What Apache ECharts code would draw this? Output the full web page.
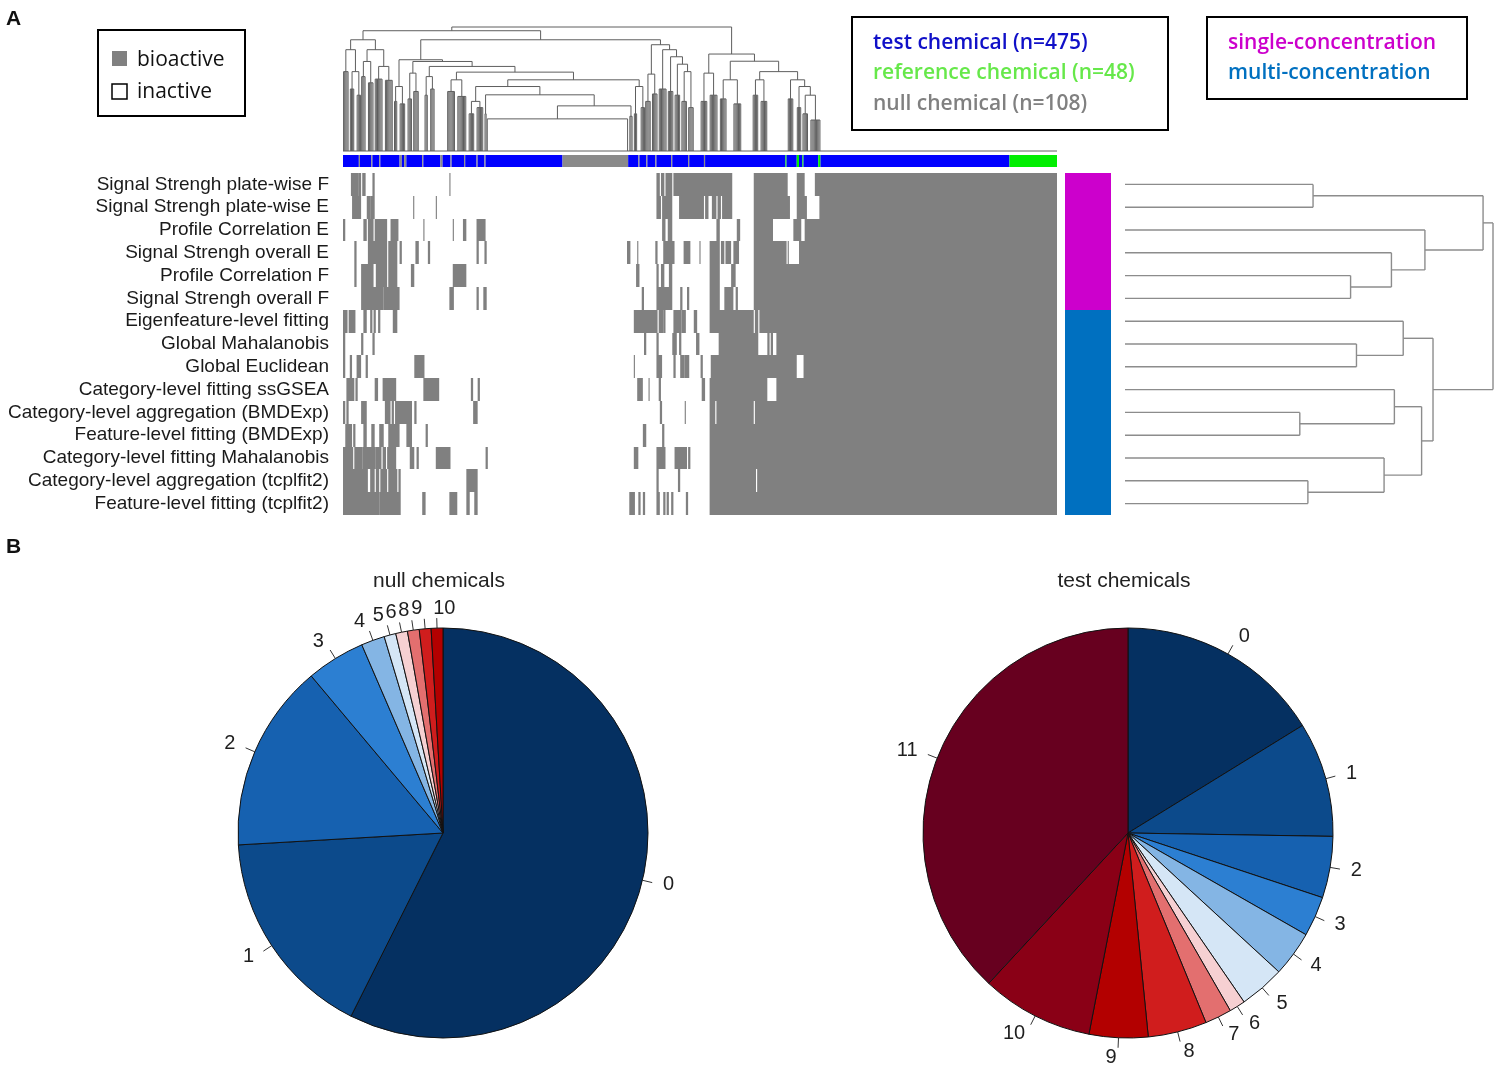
<!DOCTYPE html>
<html><head><meta charset="utf-8">
<script src="https://cdn.jsdelivr.net/npm/echarts@6/dist/echarts.min.js"></script>
<style>html,body{margin:0;padding:0;background:#fff}#c{width:1500px;height:1079px}</style>
</head><body><div id="c"></div>
<script>
// ---------------- DATA ----------------
const nColumns = 631; // 475 test + 48 reference + 108 null chemicals
const rowNames = ['Signal Strengh plate-wise F','Signal Strengh plate-wise E','Profile Correlation E','Signal Strengh overall E','Profile Correlation F','Signal Strengh overall F','Eigenfeature-level fitting','Global Mahalanobis','Global Euclidean','Category-level fitting ssGSEA','Category-level aggregation (BMDExp)','Feature-level fitting (BMDExp)','Category-level fitting Mahalanobis','Category-level aggregation (tcplfit2)','Feature-level fitting (tcplfit2)'];
const methodType = ['single','single','single','single','single','single','multi','multi','multi','multi','multi','multi','multi','multi','multi'];

// bioactive column runs [firstCol, lastCol] per method (row)
const runsPlateWiseF = [[7,13],[14,15],[17,19],[26,27],[94,94],[277,279],[281,283],[285,290],[292,343],[363,392],[401,407],[417,630]];
const runsPlateWiseE = [[8,15],[21,23],[24,27],[62,62],[82,82],[277,280],[282,290],[297,318],[320,322],[326,329],[331,333],[335,343],[363,394],[401,409],[421,630]];
const runsProfCorrE = [[0,1],[18,20],[22,26],[28,38],[42,48],[71,71],[97,97],[106,108],[118,125],[282,284],[287,290],[330,332],[348,350],[363,379],[398,404],[408,630]];
const runsOverallE = [[10,11],[22,38],[40,47],[50,51],[64,66],[75,76],[118,119],[125,126],[251,253],[260,260],[276,277],[283,292],[301,306],[315,315],[324,332],[334,336],[338,342],[345,349],[363,391],[393,393],[403,630]];
const runsProfCorrF = [[10,11],[16,26],[29,38],[40,47],[60,62],[97,108],[259,261],[277,278],[281,283],[288,290],[324,332],[343,346],[363,630]];
const runsOverallF = [[16,35],[36,37],[38,49],[94,97],[118,119],[124,126],[264,265],[277,290],[298,299],[304,305],[324,332],[337,344],[347,348],[363,630]];
const runsEigen = [[0,3],[5,10],[18,20],[24,25],[27,28],[31,32],[44,47],[257,277],[279,282],[283,284],[292,298],[299,302],[310,312],[324,362],[364,366],[368,630]];
const runsGlobalMaha = [[0,1],[16,17],[26,27],[266,267],[277,278],[291,294],[297,298],[312,314],[332,366],[375,376],[378,379],[383,630]];
const runsGlobalEucl = [[0,1],[6,7],[12,15],[20,21],[63,71],[257,257],[277,281],[292,293],[298,301],[302,305],[316,317],[325,400],[407,630]];
const runsCatSsgsea = [[3,9],[11,12],[28,30],[35,46],[71,84],[113,114],[119,120],[260,264],[270,270],[279,280],[317,319],[324,374],[383,630]];
const runsCatAggBmd = [[0,1],[3,4],[16,20],[37,41],[43,44],[46,60],[63,64],[115,118],[280,281],[302,302],[324,328],[330,362],[364,630]];
const runsFeatBmd = [[2,7],[9,10],[18,20],[25,27],[32,35],[40,49],[56,60],[73,74],[265,267],[282,283],[324,630]];
const runsCatMaha = [[0,8],[10,16],[17,28],[29,33],[35,37],[39,46],[59,62],[65,66],[82,94],[126,127],[257,260],[277,284],[293,303],[305,306],[324,630]];
const runsCatAggTcpl = [[0,21],[24,27],[29,31],[33,38],[40,47],[49,50],[109,118],[277,278],[296,297],[324,364],[366,630]];
const runsFeatTcpl = [[0,31],[32,50],[70,72],[94,100],[109,111],[116,118],[253,257],[261,262],[265,266],[277,279],[283,284],[286,287],[290,291],[303,304],[324,630]];

// chemical type of each column (runs); everything else is a test chemical
const nullRuns = [[14,14],[25,25],[32,32],[50,51],[54,55],[70,70],[86,87],[95,95],[107,107],[118,118],[125,125],[194,251],[261,261],[268,268],[276,276],[290,290],[305,305],[319,319]];
const refRuns = [[391,391],[401,402],[406,406],[420,421],[589,630]];

// column dendrogram: node = [height, left, right]; leaf group = [firstCol, lastCol, height]
const colTreeLeft = [89.7,
  [81.7, [0,4,64], [64, [6,9,50], [12,15,45]]],
  [81.7, [72.2, [16,19,60], [22,26,55]], [68.2, [28,34,58], [37,43,57]]]];
const colTreeMidLeft = [73.6,
  [52, [45,47,40], [50,54,38]],
  [72.2, [62.8, [57,60,42], [62,66,48]],
    [68.2, [60, [72,74,45], [77,80,50]],
      [63.6, [57.4, [92,98,48], [101,108,44]],
        [57.4,
          [52, [40, [111,115,30], [118,123,35]],
               [45.3, [125,126,30], [36.4, [25.9, [127,127,0], [251,251,0]], [253,255,28]]]],
          [52, [257,259,30], [263,266,35]]]]]]];
const colTreeMidRight = [85.7,
  [62, [267,271,40], [273,277,46]],
  [81.7, [279,285,50], [76, [287,291,48], [70, [293,297,45], [64, [299,303,40], [305,309,35]]]]]];
const colTreeRight = [78.2,
  [62.8, [316,321,40], [324,330,45]],
  [72.4, [57.4, [333,338,42], [345,351,38]],
    [64, [57.4, [362,366,45], [369,374,40]],
      [57.4, [393,397,42], [52, [401,404,35], [45, [406,410,30], [413,421,25]]]]]]];
const colTreeJoinHeights = [100, 97, 89.7]; // root, left-half, middle

// row dendrogram (hclust style merges: negative = row number, positive = merge number)
const rowMergeA = [-1, -5, -4, -3, 1, -8, -7, -11, -10, -14, -13, 9, 7, 5];
const rowMergeB = [-2, -6, 2, 3, 4, -9, 6, -12, 8, -15, 10, 11, 12, 13];
const rowMergeH = [0.511, 0.613, 0.724, 0.815, 0.973, 0.629, 0.756, 0.475, 0.732, 0.497, 0.704, 0.806, 0.837, 1.0];

// pies: number of bioactive calls per chemical
const nullLabels = ['0','1','2','3','4','5','6','8','9','10'];
const nullCounts = [62, 18, 16, 5, 2, 1, 1, 1, 1, 1];
const testLabels = ['0','1','2','3','4','5','6','7','8','9','10','11'];
const testCounts = [77, 43, 23, 15, 17, 17, 6, 10, 22, 22, 42, 181];
const pieColors = ['#053061','#0c4a8b','#1661b0','#2c7fd2','#84b5e4','#d5e6f6','#f6d0d2','#e36f6f','#d01d1d','#b30000','#8a0016','#67001f'];

// ---------------- BUILD ----------------
const heatRuns = [runsPlateWiseF, runsPlateWiseE, runsProfCorrE, runsOverallE, runsProfCorrF, runsOverallF, runsEigen, runsGlobalMaha, runsGlobalEucl, runsCatSsgsea, runsCatAggBmd, runsFeatBmd, runsCatMaha, runsCatAggTcpl, runsFeatTcpl];
const heatData = [];
heatRuns.forEach((runs, r) => runs.forEach(([a, b]) => heatData.push([a, b, r])));

const typeOf = new Array(nColumns).fill(0);
nullRuns.forEach(([a, b]) => { for (let c = a; c <= b; c++) typeOf[c] = 1; });
refRuns.forEach(([a, b]) => { for (let c = a; c <= b; c++) typeOf[c] = 2; });
const barData = [];
let s = 0;
for (let c = 1; c <= nColumns; c++) {
  if (c === nColumns || typeOf[c] !== typeOf[s]) { barData.push([s, c - 1, typeOf[s]]); s = c; }
}
const barColors = ['#0000ff', '#8a8a8a', '#00ee00'];

const colTree = [colTreeJoinHeights[0], [colTreeJoinHeights[1], colTreeLeft, [colTreeJoinHeights[2], colTreeMidLeft, colTreeMidRight]], colTreeRight];
const colSegs = [[0, 0, nColumns, 0]];
function layoutCol(node) {
  if (!Array.isArray(node[1])) {
    const [c1, c2, h] = node;
    if (h > 0) {
      for (let c = c1; c <= c2; c++) colSegs.push([c + 0.5, 0, c + 0.5, h]);
      if (c2 > c1) colSegs.push([c1 + 0.5, h, c2 + 0.5, h]);
    }
    return [(c1 + c2) / 2 + 0.5, h];
  }
  const [h, A, B] = node;
  const a = layoutCol(A), b = layoutCol(B);
  colSegs.push([a[0], a[1], a[0], h], [b[0], b[1], b[0], h], [a[0], h, b[0], h]);
  return [(a[0] + b[0]) / 2, h];
}
layoutCol(colTree);

const rowSegs = [];
const mergePos = [];
function rowNode(id) { return id < 0 ? [-id - 1 + 0.5, 0] : mergePos[id - 1]; }
rowMergeH.forEach((h, k) => {
  const a = rowNode(rowMergeA[k]), b = rowNode(rowMergeB[k]);
  rowSegs.push([a[1], a[0], h, a[0]], [b[1], b[0], h, b[0]], [h, a[0], h, b[0]]);
  mergePos.push([(a[0] + b[0]) / 2, h]);
});

const methodData = methodType.map((t, r) => [r, t === 'single' ? 0 : 1]);

// ---------------- CHART ----------------
const FONT = 'Liberation Sans, Arial, sans-serif';
const LFONT = '"Open Sans", sans-serif';
const chart = echarts.init(document.getElementById('c'));
const lineItem = (color, width) => (params, api) => {
  const p1 = api.coord([api.value(0), api.value(1)]);
  const p2 = api.coord([api.value(2), api.value(3)]);
  return { type: 'line', shape: { x1: p1[0], y1: p1[1], x2: p2[0], y2: p2[1] }, style: { stroke: color, lineWidth: width } };
};
const bandRect = (api, x0v, x1v, yv, fill) => {
  const p1 = api.coord([x0v, yv]);
  const p2 = api.coord([x1v, yv]);
  const h = api.size([0, 1])[1];
  const y0 = Math.round(p1[1] - h / 2), y1 = Math.round(p1[1] + h / 2);
  return { type: 'rect', shape: { x: p1[0], y: y0, width: p2[0] - p1[0], height: y1 - y0 }, style: { fill } };
};
const pieSlices = (name, labels, counts, cx) => ({
  type: 'pie', name, center: [cx, 833], radius: 205, startAngle: 90, clockwise: true,
  avoidLabelOverlap: false, silent: true, animation: false,
  labelLayout: { hideOverlap: false },
  data: labels.map((l, i) => ({ name: l, value: counts[i], itemStyle: { color: pieColors[i] } })),
  itemStyle: { borderColor: '#111', borderWidth: 1 },
  label: { show: true, position: 'outside', formatter: '{b}', fontSize: 20, color: 'rgba(0,0,0,0)' },
  labelLine: { show: true, length: 10, length2: 0, lineStyle: { color: '#333', width: 1 } },
  emphasis: { disabled: true }
});
// the last null slice label sits just right of the top, as in the figure
const pieLabels = (name, labels, counts, cx, shifted) => ({
  type: 'pie', name: name + ' labels', center: [cx, 833], radius: 205, startAngle: 90, clockwise: true,
  avoidLabelOverlap: false, silent: true, animation: false,
  labelLayout: { hideOverlap: false },
  data: labels.map((l, i) => (l === shifted
    ? { name: l, value: counts[i], label: { distanceToLabelLine: -19 } }
    : { name: l, value: counts[i] })),
  itemStyle: { color: 'rgba(0,0,0,0)', borderWidth: 0 },
  label: { show: true, position: 'outside', formatter: '{b}', fontSize: 20, color: '#1e1e1e', fontFamily: FONT, distanceToLabelLine: 1 },
  labelLine: { show: false, length: 20, length2: 0 },
  emphasis: { disabled: true }
});

chart.setOption({
  animation: false,
  grid: [
    { left: 343, top: 27, width: 714, height: 124 },
    { left: 343, top: 155, width: 714, height: 12 },
    { left: 343, top: 173, width: 714, height: 342 },
    { left: 1065, top: 173, width: 46, height: 342 },
    { left: 1125, top: 173, width: 368, height: 342 }
  ],
  xAxis: [
    { gridIndex: 0, type: 'value', min: 0, max: nColumns, show: false },
    { gridIndex: 1, type: 'value', min: 0, max: nColumns, show: false },
    { gridIndex: 2, type: 'value', min: 0, max: nColumns, show: false },
    { gridIndex: 3, type: 'value', min: 0, max: 1, show: false },
    { gridIndex: 4, type: 'value', min: 0, max: 1, show: false }
  ],
  yAxis: [
    { gridIndex: 0, type: 'value', min: 0, max: 100, show: false },
    { gridIndex: 1, type: 'value', min: 0, max: 1, show: false },
    { gridIndex: 2, type: 'category', data: rowNames, inverse: true,
      axisLine: { show: false }, axisTick: { show: false }, splitLine: { show: false },
      axisLabel: { interval: 0, fontSize: 19, color: '#1a1a1a', margin: 14, fontFamily: FONT } },
    { gridIndex: 3, type: 'category', data: rowNames, inverse: true, show: false },
    { gridIndex: 4, type: 'value', min: 0, max: rowNames.length, inverse: true, show: false }
  ],
  series: [
    { type: 'custom', xAxisIndex: 0, yAxisIndex: 0, silent: true, data: colSegs,
      encode: { x: [0, 2], y: [1, 3] }, renderItem: lineItem('#5e5e5e', 1) },
    { type: 'custom', xAxisIndex: 1, yAxisIndex: 1, silent: true, data: barData,
      encode: { x: [0, 1] },
      renderItem: (params, api) => {
        const p1 = api.coord([api.value(0), 1]);
        const p2 = api.coord([api.value(1) + 1, 0]);
        return { type: 'rect', shape: { x: p1[0], y: p1[1], width: p2[0] - p1[0], height: p2[1] - p1[1] }, style: { fill: barColors[api.value(2)] } };
      } },
    { type: 'custom', xAxisIndex: 2, yAxisIndex: 2, silent: true, data: heatData,
      encode: { x: [0, 1], y: 2 },
      renderItem: (params, api) => bandRect(api, api.value(0), api.value(1) + 1, api.value(2), '#808080') },
    { type: 'custom', xAxisIndex: 3, yAxisIndex: 3, silent: true, data: methodData,
      encode: { y: 0 },
      renderItem: (params, api) => bandRect(api, 0, 1, api.value(0), api.value(1) === 0 ? '#cc00cc' : '#0070c0') },
    { type: 'custom', xAxisIndex: 4, yAxisIndex: 4, silent: true, data: rowSegs,
      encode: { x: [0, 2], y: [1, 3] }, renderItem: lineItem('#8c8c8c', 1.4) },
    pieSlices('null chemicals', nullLabels, nullCounts, 443),
    pieLabels('null chemicals', nullLabels, nullCounts, 443, '10'),
    pieSlices('test chemicals', testLabels, testCounts, 1128),
    pieLabels('test chemicals', testLabels, testCounts, 1128, null)
  ],
  graphic: [
    { type: 'text', left: 6, top: 9, style: { text: 'A', font: 'bold 21px ' + FONT, fill: '#111' } },
    { type: 'text', left: 6, top: 537, style: { text: 'B', font: 'bold 21px ' + FONT, fill: '#111' } },
    { type: 'rect', shape: { x: 98, y: 30, width: 147, height: 86 }, style: { fill: 'none', stroke: '#000', lineWidth: 2 } },
    { type: 'rect', shape: { x: 112, y: 51, width: 15, height: 15 }, style: { fill: '#808080' } },
    { type: 'rect', shape: { x: 112, y: 84, width: 15, height: 15 }, style: { fill: '#fff', stroke: '#000', lineWidth: 1.5 } },
    { type: 'text', x: 137, y: 60, style: { text: 'bioactive', font: '21px ' + LFONT, fill: '#111', verticalAlign: 'middle' } },
    { type: 'text', x: 137, y: 92, style: { text: 'inactive', font: '21px ' + LFONT, fill: '#111', verticalAlign: 'middle' } },
    { type: 'rect', shape: { x: 852, y: 17, width: 316, height: 113 }, style: { fill: 'none', stroke: '#000', lineWidth: 2 } },
    { type: 'text', x: 873, y: 43, style: { text: 'test chemical (n=475)', font: '600 21px ' + LFONT, fill: '#1010c8', verticalAlign: 'middle' } },
    { type: 'text', x: 873, y: 73, style: { text: 'reference chemical (n=48)', font: '600 21px ' + LFONT, fill: '#66e84a', verticalAlign: 'middle' } },
    { type: 'text', x: 873, y: 104, style: { text: 'null chemical (n=108)', font: '600 21px ' + LFONT, fill: '#808080', verticalAlign: 'middle' } },
    { type: 'rect', shape: { x: 1207, y: 17, width: 260, height: 82 }, style: { fill: 'none', stroke: '#000', lineWidth: 2 } },
    { type: 'text', x: 1228, y: 43, style: { text: 'single-concentration', font: '600 21px ' + LFONT, fill: '#cc00cc', verticalAlign: 'middle' } },
    { type: 'text', x: 1228, y: 73, style: { text: 'multi-concentration', font: '600 21px ' + LFONT, fill: '#0070c0', verticalAlign: 'middle' } },
    { type: 'text', x: 439, y: 581, style: { text: 'null chemicals', font: '21px ' + FONT, fill: '#222', align: 'center', verticalAlign: 'middle' } },
    { type: 'text', x: 1124, y: 581, style: { text: 'test chemicals', font: '21px ' + FONT, fill: '#222', align: 'center', verticalAlign: 'middle' } }
  ]
});
</script>
</body></html>
